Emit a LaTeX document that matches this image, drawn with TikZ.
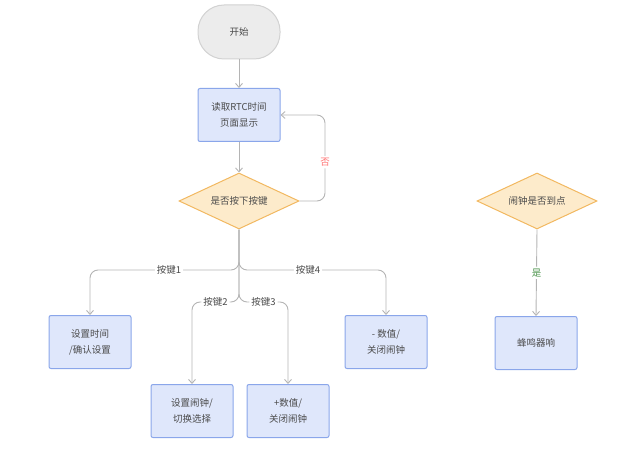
\documentclass[tikz,border=0pt]{standalone}
\usepackage{fontspec}
\setmainfont{Noto Sans CJK SC}
\usetikzlibrary{shapes.geometric,arrows.meta}
\definecolor{boxfill}{HTML}{DFE7FB}
\definecolor{boxline}{HTML}{8AA6EA}
\definecolor{dfill}{HTML}{FDEBCB}
\definecolor{dline}{HTML}{F2B860}
\definecolor{sfill}{HTML}{ECECEC}
\definecolor{sline}{HTML}{D2D2D2}
\definecolor{conn}{HTML}{B4B4B4}
\definecolor{txt}{HTML}{4A4A4A}
\tikzset{
  base/.style={font=\fontsize{9.5}{16}\selectfont, text=txt, align=center},
  procbox/.style={base, draw=boxline, fill=boxfill, line width=1pt, rounded corners=2pt, minimum width=82pt, minimum height=53pt},
  startbox/.style={base, draw=sline, fill=sfill, line width=1pt, rounded corners=26pt, minimum width=82pt, minimum height=54pt},
  decision/.style={base, diamond, draw=dline, fill=dfill, line width=1pt, minimum width=120pt, minimum height=56pt, aspect=2.1, inner sep=0pt},
  conn/.style={draw=conn, line width=0.9pt, rounded corners=8pt, -{Straight Barb[length=4pt,width=7pt]}},
  lbl/.style={base, fill=white, inner sep=2pt}
}
\begin{document}
\begin{tikzpicture}[x=1pt,y=-1pt]
\useasboundingbox (0,0) rectangle (620,449);
\node[startbox] (start) at (239,32) {开始};
\node[procbox] (read) at (239,115) {读取RTC时间\\页面显示};
\node[decision] (key) at (239,201) {是否按下按键};
\node[procbox] (b1) at (90,342) {设置时间\\/确认设置};
\node[procbox] (b4) at (386,342) {- 数值/\\关闭闹钟};
\node[procbox] (b2) at (192,411) {设置闹钟/\\切换选择};
\node[procbox] (b3) at (288,411) {+数值/\\关闭闹钟};
\node[decision] (alarm) at (537,201) {闹钟是否到点};
\node[procbox] (buzz) at (536,343) {蜂鸣器响};

\coordinate (j1) at (239,270);
\coordinate (j2) at (239,302);

\draw[conn] (start) -- (read);
\draw[conn] (read) -- (key);
\draw[conn] (key.east) -- (325,201) -- node[lbl, text=red!55, pos=0.45] {否} (325,115) -- (read.east);
\draw[conn] (key.south) -- (j1) -- node[lbl, pos=0.47] {按键1} (90,270) -- (b1.north);
\draw[conn] (key.south) -- (j1) -- node[lbl, pos=0.47] {按键4} (386,270) -- (b4.north);
\draw[conn] (key.south) -- (j2) -- node[lbl, pos=0.5] {按键2} (192,302) -- (b2.north);
\draw[conn] (key.south) -- (j2) -- node[lbl, pos=0.5] {按键3} (288,302) -- (b3.north);
\draw[conn] (alarm.south) -- node[lbl, text=green!40!black!70, pos=0.5] {是} (buzz.north);
\end{tikzpicture}
\end{document}
